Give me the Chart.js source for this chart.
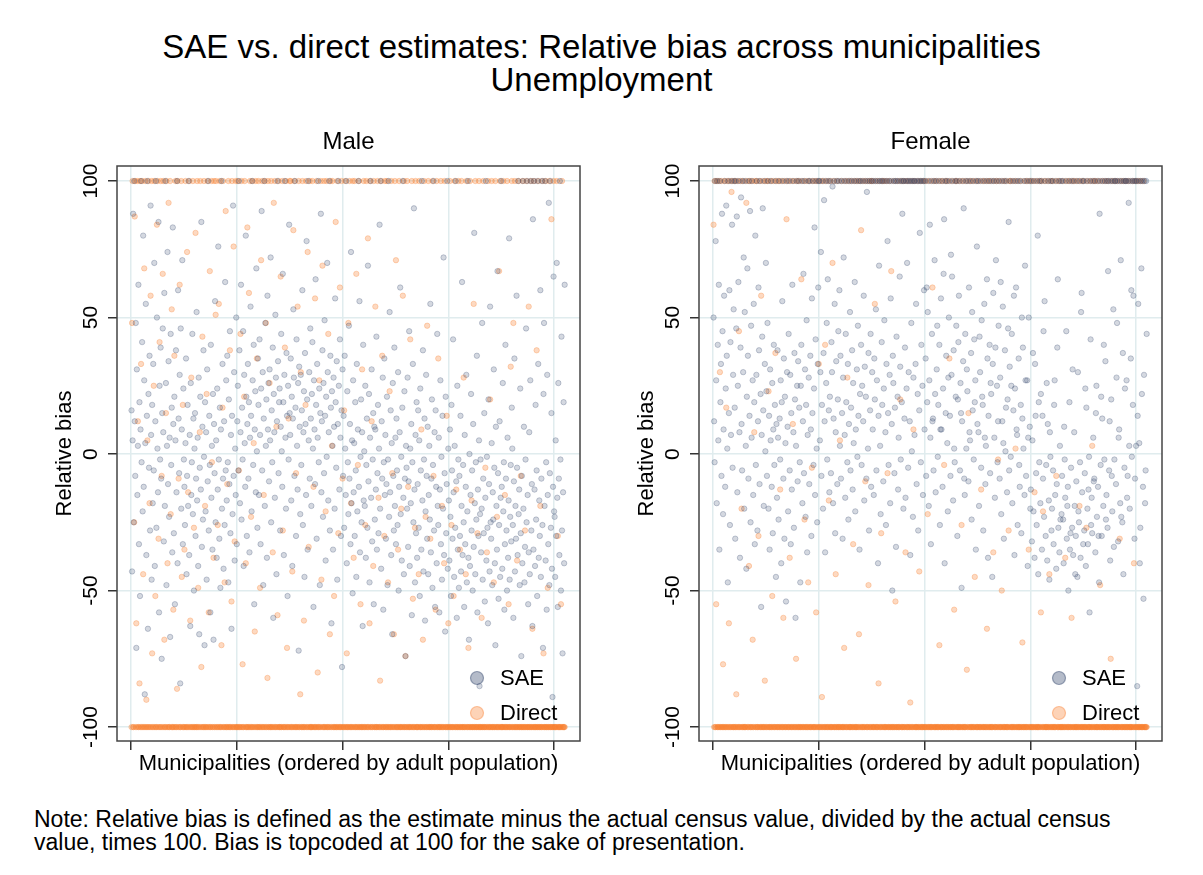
<!DOCTYPE html>
<html>
<head>
<meta charset="utf-8">
<title>SAE vs. direct estimates</title>
<script src="https://cdn.jsdelivr.net/npm/chart.js@4.4.0/dist/chart.umd.min.js"></script>
<style>
  body { margin: 0; background: #fff; font-family: "Liberation Sans", Arial, sans-serif; color: #000; }
  #page { position: relative; width: 1203px; height: 875px; overflow: hidden; }
  #title { position: absolute; top: 30px; left: 0; width: 1203px; text-align: center; font-size: 33px; line-height: 33px; }
  .panel { position: absolute; top: 120px; }
  #note { position: absolute; left: 34px; top: 808px; font-size: 23px; line-height: 23px; }
</style>
</head>
<body>
<div id="page">
  <div id="title">SAE vs. direct estimates: Relative bias across municipalities<br>Unemployment</div>
  <canvas id="maleChart" class="panel" width="600" height="680" style="left:0"></canvas>
  <canvas id="femaleChart" class="panel" width="600" height="680" style="left:582px"></canvas>
  <div id="note">Note: Relative bias is defined as the estimate minus the actual census value, divided by the actual census<br>value, times 100. Bias is topcoded at 100 for the sake of presentation.</div>
</div>
<script>
// municipalities are ranked by adult population; position i in each array = rank i+1
const xTicks = [0, 200, 400, 600, 800];
const yTicks = [-100, -50, 0, 50, 100];
const seriesLabels = ['SAE', 'Direct'];

const saeMale = [
  16,-43,5,88,-25,100,12,-8,48,-71,31,-15,3,62,-33,19,-52,9,100,-3,
  41,-21,80,-12,27,-88,4,55,-37,14,100,-64,22,-5,36,-28,91,7,-46,18,
  -18,33,-6,70,-41,12,100,-27,50,2,-14,85,-58,25,-2,39,-9,-75,15,46,
  8,-32,59,-19,100,26,-48,3,74,-11,34,-23,6,-67,44,-4,17,-36,83,11,
  -29,21,-55,5,38,-14,100,-40,60,13,-7,29,-84,46,-20,9,71,-33,24,-2,
  -12,-26,4,35,-44,-8,18,-19,100,-37,7,-63,26,-15,-3,44,-22,13,-50,2,
  15,-30,-9,52,-17,6,-41,28,-66,-5,21,-13,85,-34,10,-24,38,-1,-70,19,
  -21,8,-46,31,-10,100,-28,14,-4,-58,40,-16,3,-35,22,-68,11,-7,56,-25,
  5,-38,24,-13,76,-2,-31,17,-49,9,100,-20,33,-9,-42,12,-26,63,-6,27,
  -17,36,-3,-47,20,-11,45,-29,7,-64,14,-22,91,-8,30,-39,2,-15,50,-33,
  12,25,-6,100,38,-18,8,62,-24,17,-2,45,-41,29,4,-12,80,21,-30,11,
  33,-9,19,-36,6,54,14,-21,100,27,-4,40,-55,9,23,-14,68,1,-27,35,
  18,-15,42,7,-33,24,89,-6,30,-48,13,100,-19,48,3,20,-38,58,9,26,
  -10,31,5,72,-25,16,-3,39,-60,22,8,-16,51,28,-44,12,100,34,-7,19,
  24,-28,10,44,1,-12,66,19,-37,29,100,6,-20,37,14,-52,25,-2,84,15,
  7,35,-17,21,-41,13,53,28,-8,100,17,-30,42,3,-13,26,-72,32,10,-22,
  29,-4,16,60,-26,8,23,-45,37,11,-15,78,20,-35,100,5,30,-9,46,13,
  -19,22,41,2,-56,27,9,-11,64,18,-31,33,6,100,-3,24,-48,15,88,-14,
  12,38,-23,26,-7,49,14,-39,21,-1,70,30,-17,8,100,-28,36,17,-62,23,
  3,-35,28,10,-20,57,19,-5,34,-46,11,100,25,-13,42,6,-30,16,-78,31,
  -8,14,-27,36,2,-15,100,-40,23,-3,-22,47,-9,11,-33,74,-18,5,-51,27,
  -14,4,-30,19,-6,-45,33,-21,9,100,-12,56,-36,-1,20,-25,8,-63,40,-17,
  1,-19,25,-38,-4,13,-27,69,-10,22,-47,6,100,-16,31,-32,-2,15,-55,10,
  -24,9,-13,43,-35,-7,18,-29,2,84,-20,100,-42,12,-9,28,-57,-3,35,-15,
  7,-31,-11,21,-48,-2,100,-23,52,-14,16,-37,4,-66,26,-8,-28,39,-19,6,
  -33,13,-6,-26,30,-50,-12,8,61,-22,-1,-39,17,100,-16,-44,23,-9,-74,3,
  -5,-20,28,-34,-10,45,-41,2,-18,11,-59,-3,33,-25,90,-13,-47,7,-29,19,
  -38,-11,16,-27,5,-52,24,-6,-35,100,-17,38,-43,-2,13,-61,-21,29,-8,-31,
  10,-44,-15,3,-24,55,-36,-9,20,-49,-4,100,-28,8,-56,16,-12,-40,44,-19,
  -26,6,-58,-13,27,-33,-1,-46,14,-20,72,-37,-7,-65,21,-29,-11,100,-42,2,
  -17,-39,9,-23,-52,18,-6,-31,42,-14,-45,3,-27,100,-10,-60,25,-35,-2,-49,
  -8,-30,14,-43,-19,63,-37,-4,-25,-56,7,-33,-12,29,-47,-21,100,-38,-68,0,
  -41,-15,22,-28,-6,-50,11,-34,81,-18,-44,-3,-24,36,-58,-13,-30,5,-85,-22,
  -2,-36,-20,48,-46,-9,-29,15,-54,-16,100,-39,-1,-27,-62,20,-11,-43,54,-25,
  -31,4,-48,-14,-24,31,-5,-40,-70,10,-19,-35,67,-7,-53,-26,12,-45,-16,100,
  -12,-42,26,-21,-3,-57,-33,40,-9,-28,-50,6,-38,-17,79,-46,-23,-4,-32,17,
  2,-26,-60,-10,35,-43,-19,-31,58,-5,-37,100,-22,-13,-48,24,-29,-74,-8,-40,
  100,-20,10,-47,-34,-2,46,-25,100,-15,-55,-36,8,-44,27,100,-28,-11,-63,86,
  -35,100,-13,-41,18,-24,-6,-52,100,33,-38,-17,-30,60,-45,-9,100,-26,-71,22,
  48,-19,100,-39,-3,-57,29,-15,-33,92,-48,-7,100,-27,15,-42,-89,-12,65,-21,
  -23,-45,5,-30,70,-16,-56,26,-9,-37,100,-2,-50,43,-28,-73,-14,19,-40,62
];

const directMale = [
  -100,48,100,-100,-100,-25,87,100,-100,-62,-100,100,12,-100,-100,-84,100,-100,33,-100,
  100,-100,-44,-100,68,-100,100,-100,-90,-100,5,-100,100,-100,-18,-100,58,-100,100,-73,
  -100,-100,25,100,-100,-52,-100,-100,84,100,-100,-31,-100,41,-100,100,-100,-8,-100,66,
  100,-100,-68,-100,-100,15,100,-100,-40,-100,92,-100,-100,100,-22,-100,53,-100,-100,-57,
  -100,36,-100,100,-100,-100,-86,100,-100,-9,-100,62,-100,-100,100,-45,-100,18,-100,-100,
  -35,-100,100,-100,-100,74,-100,-14,-100,100,-100,-61,-100,28,-100,-100,100,-100,-27,-100,
  -100,81,-100,-100,100,-100,-49,-100,-100,8,100,-100,-78,-100,43,-100,-100,100,-100,-19,
  -100,-100,22,-100,100,-100,-58,-100,67,-100,-100,100,-3,-100,-100,-38,100,-100,-100,51,
  100,-100,-100,-26,-100,55,-100,100,-100,-100,-70,-100,17,100,-100,-100,-47,-100,89,-100,
  -100,-11,-100,100,-100,-100,38,-100,-100,-54,100,-100,-100,76,-100,-32,-100,100,-100,-100,
  -100,100,-100,-6,-100,-100,44,-100,100,-100,-77,-100,-100,21,100,-100,-40,-100,-100,83,
  -100,-100,59,-100,100,-100,-23,-100,-100,100,-100,4,-100,-65,-100,100,-100,35,-100,-100,
  100,-100,-100,-49,-100,71,-100,100,-100,-100,-15,-100,100,-100,48,-100,-100,-82,100,-100,
  -100,26,-100,-100,100,-100,-100,-36,-100,92,-100,100,-100,-100,10,-100,-59,-100,100,-100,
  -100,-100,65,-100,-100,100,-28,-100,-100,-100,39,-100,100,-100,-71,-100,-100,13,-100,100,
  -100,100,-100,-100,-43,-100,82,-100,100,-100,-100,-7,-100,-100,54,-100,100,-100,-100,-88,
  30,-100,-100,100,-100,-100,-61,-100,-100,18,100,-100,-100,74,-100,-34,-100,100,-100,-100,
  -100,-100,100,-100,-12,-100,-100,57,-100,-100,100,-100,-80,-100,-100,27,-100,-100,100,-46,
  -100,69,-100,-100,100,-100,-100,-21,-100,100,-100,-100,44,-100,-100,-66,100,-100,-100,3,
  100,-100,-100,-52,-100,-100,85,-100,-100,100,-100,-29,-100,-100,61,-100,-100,100,-100,-9,
  -100,-100,16,-100,100,-100,-100,-73,-100,-100,48,-100,100,-100,-100,-18,-100,-100,100,-100,
  -38,-100,100,-100,-100,66,-100,-100,-4,-100,100,-100,-100,-55,-100,-100,31,-100,-100,100,
  -100,-100,-26,-100,100,-100,-100,79,-100,-100,-62,100,-100,-100,12,-100,-100,-41,100,-100,
  -100,54,-100,-100,-100,100,-100,-16,-100,-100,-83,-100,100,-100,36,-100,-100,-100,-30,100,
  -100,-100,-100,100,-100,-47,-100,-100,23,-100,-100,100,-100,-7,-100,-100,-66,-100,100,-100,
  71,-100,-100,-100,-35,-100,100,-100,-100,-100,-20,-100,-100,58,-100,100,-100,-100,-74,-100,
  -100,100,-100,-12,-100,-100,-100,42,-100,-100,100,-100,-53,-100,-100,-100,-27,100,-100,-100,
  -100,-100,-100,-44,100,-100,-100,-100,9,-100,-100,-68,-100,100,-100,-100,-23,-100,-100,47,
  -100,100,-100,-100,-100,-31,-100,-100,-100,100,-100,-8,-100,-100,-100,-57,-100,100,-100,-100,
  35,-100,-100,-100,-100,100,-100,-19,-100,-100,-100,-40,100,-100,-100,-100,14,-100,-100,-62,
  -100,-100,100,-100,-100,-26,-100,-100,-100,-52,-100,100,-100,-100,-13,-100,-100,-100,100,-100,
  -100,-35,-100,-100,100,-100,-100,-100,28,-100,-100,-100,-44,100,-100,-100,-100,-71,-100,-100,
  100,-100,-100,-17,-100,-100,-100,55,-100,-100,100,-100,-100,-100,-29,-100,-100,100,-100,-100,
  -100,-100,-60,-100,-100,100,-100,-100,-100,-5,-100,-100,-36,-100,100,-100,-100,-100,20,-100,
  -100,100,-100,-100,-100,-47,-100,-100,100,-100,-100,-23,-100,-100,-100,67,-100,100,-100,-100,
  -100,-100,-100,100,-100,-100,-15,-100,-100,-100,100,-100,-100,-55,-100,-100,-100,32,-100,100,
  -100,-100,48,-100,-100,100,-100,-100,-100,-39,-100,-100,100,-100,-100,-100,-8,-100,-100,-100,
  100,-100,-100,-100,-28,-100,-100,100,-100,-100,-100,54,-100,-100,-100,100,-100,-100,-64,-100,
  -100,100,-100,-100,-100,-100,38,-100,-100,100,-100,-100,-100,-19,-100,-100,-100,100,-100,-73,
  -100,-100,-100,100,-100,-100,-100,-49,-100,-100,100,-100,-100,-100,86,-100,-100,-100,100,-100,
  -100,-100,-100,-100,100,-100,-30,-100,-100,-100,-100,-100,-55,-100,100,-100,-100,-100,-100,-100
];

const saeFemale = [
  50,12,-3,100,78,27,-18,100,40,5,62,-35,100,19,33,-8,88,45,-22,9,
  58,100,-12,24,91,36,2,-47,100,15,60,-26,41,7,100,84,-5,29,53,100,
  17,-31,100,46,87,-14,25,63,100,8,-38,39,94,11,-6,100,30,72,-20,52,
  100,3,-42,21,68,36,-9,100,14,89,-25,47,6,100,27,-15,55,19,-33,80,
  -4,29,100,-28,12,61,38,-11,100,22,-56,7,43,90,16,-19,100,33,1,70,
  23,-8,48,100,-20,14,-35,31,5,100,-12,26,-29,9,40,-4,18,100,-45,11,
  -16,38,6,-24,100,13,-2,27,-40,19,56,100,-9,35,-31,21,4,-54,100,30,
  10,-21,44,100,-6,29,-33,15,-13,62,100,8,-27,37,20,-60,3,100,25,-10,
  34,100,17,-3,-47,25,40,100,-18,12,66,-7,100,31,-23,18,49,-36,7,100,
  28,-11,100,36,9,-30,57,15,100,-4,24,83,-15,42,100,2,-25,33,61,100,
  100,5,30,74,-8,18,100,-20,37,93,12,-36,100,26,48,-2,64,100,16,-14,
  21,100,-7,41,30,98,-18,13,100,55,-29,8,34,100,-11,20,45,100,60,3,
  36,-9,100,15,-31,28,72,100,7,-16,44,19,100,-3,33,-24,11,100,52,-6,
  17,100,38,-13,26,4,100,63,-21,9,100,31,-1,47,14,100,-35,22,100,40,
  -4,25,100,12,58,-17,32,100,21,-9,96,100,2,37,-28,100,16,44,-12,100,
  30,9,100,-15,35,20,100,53,-6,27,100,-40,14,69,100,3,-22,100,41,18,
  100,-10,24,49,100,8,-26,33,100,78,15,-4,100,29,-18,57,100,11,-50,36,
  26,100,-7,17,100,-34,43,100,21,-13,6,100,65,32,-2,100,19,88,100,-20,
  100,13,39,-16,100,24,70,100,-5,30,100,12,-37,100,48,1,100,-23,28,100,
  7,100,33,55,-11,100,22,-28,100,16,81,100,-3,40,100,25,-15,100,60,9,
  100,35,-8,61,19,52,100,-19,27,84,6,-33,100,44,12,13,-6,100,71,22,
  -14,100,31,47,-1,18,100,40,-26,9,57,9,100,-12,24,66,86,-40,100,15,
  36,100,4,-21,28,50,100,14,-8,73,29,65,100,-17,38,2,-3,100,21,47,
  100,-30,20,41,58,100,-6,26,15,-49,12,100,34,90,-9,-15,44,100,2,31,
  23,100,-10,61,8,5,100,37,-24,52,16,100,-2,42,19,27,-35,100,76,11,
  100,8,-19,43,30,100,-5,49,21,18,-28,100,55,6,-11,3,100,64,35,-38,
  14,100,40,-7,26,22,100,-45,33,59,100,6,-16,39,71,100,25,-3,12,47,
  100,-9,28,63,-22,100,12,54,4,-31,100,38,1,17,100,-14,20,46,85,-6,
  32,100,-1,25,44,-18,100,16,58,-37,24,100,61,9,7,-26,100,35,-4,-12,
  100,18,-29,50,13,39,2,100,-15,69,27,-8,100,27,-41,6,50,100,10,-20,
  -13,100,-32,5,37,-21,100,-38,33,14,-7,-26,100,80,-44,19,-3,100,-18,22,
  100,-35,14,-9,45,-23,56,100,-30,-4,26,-39,11,100,-17,-46,8,-1,100,-28,
  -20,100,-6,-33,18,27,-15,100,-42,-11,39,64,-27,100,-36,3,-24,100,-22,-8,
  100,-24,-40,10,-2,-16,100,45,-31,-19,-12,-50,100,19,-35,-29,-5,100,-27,31,
  -37,100,8,-19,-44,-30,-10,100,-45,30,-21,-25,100,-3,-38,52,59,-14,100,-33,
  100,-28,-7,24,-41,17,100,-20,-33,-13,-1,-58,100,42,-26,-16,-29,100,6,-10,
  -9,100,-36,15,25,-23,100,-12,-30,-47,88,100,-4,21,-30,13,100,-19,40,-2,
  100,34,-24,-15,100,-27,67,100,-6,12,-39,100,20,-8,-21,100,53,-34,-2,100,
  100,-11,28,48,100,-32,6,9,100,-18,71,-23,100,-25,37,-44,100,-5,24,100,
  100,27,-16,-8,100,92,3,-20,100,35,60,-1,100,18,58,100,-31,-9,100,3,
  100,-85,14,55,100,4,-40,-27,100,68,22,100,-12,-53,29,100,-18,-6,100,44
];

const directFemale = [
  84,-100,100,-100,-100,-55,100,-100,-100,-100,100,-100,30,-100,-100,100,-100,-100,-77,-100,
  -100,100,-100,-100,17,-100,100,-100,-100,-62,-100,100,-100,-100,96,-100,100,-100,-100,-100,
  100,-100,-100,-88,-100,100,-100,-100,45,-100,-100,100,-100,-20,-100,-100,100,-100,-100,-100,
  -100,-100,92,100,-100,-100,-100,-41,100,-100,-100,-100,100,-100,-68,-100,-100,8,100,-100,
  -100,100,-100,-100,-100,-30,-100,100,-100,-100,58,-100,-100,100,-100,-100,-100,-83,-100,100,
  -100,-100,100,-100,23,-100,-100,-100,100,-100,-100,-52,-100,100,-100,-100,-100,37,-100,100,
  -100,-100,-100,100,-100,-100,-13,-100,100,-100,-100,-100,-60,-100,100,-100,-100,-100,86,-100,
  100,-100,-100,-100,-38,-100,100,-100,-100,-100,11,-100,100,-100,-100,-100,-75,-100,100,-100,
  -100,-100,100,-100,-100,-100,64,-100,-100,100,-100,-100,-24,-100,-100,100,-100,-100,-100,-47,
  -100,100,-100,-100,-100,-100,-5,100,-100,-100,-100,-100,100,-100,-58,-100,-100,100,-100,33,
  -100,-100,-100,100,-100,-89,-100,-100,100,-100,-100,40,-100,-100,100,-100,-100,-100,-17,-100,
  100,-100,-100,-100,-100,70,-100,100,-100,-100,-100,-44,-100,-100,100,-100,-100,-100,-100,5,
  -100,-100,100,-100,-100,-100,-100,-71,-100,100,-100,-100,-100,28,-100,100,-100,-100,-100,-100,
  -100,100,-100,-100,-33,-100,-100,100,-100,-100,-100,-100,100,-100,-100,-66,-100,100,-100,82,
  -100,-100,-100,100,-100,-100,-100,-10,100,-100,-100,-100,-100,-48,100,-100,-100,-100,100,-100,
  100,-100,-100,-100,-100,55,-100,100,-100,-100,-100,-100,-84,100,-100,-100,-100,-29,-100,100,
  -100,-100,100,-100,-100,-100,-100,100,-100,-7,-100,-100,-100,100,-100,-100,67,-100,-100,-100,
  -100,100,-100,-100,-54,-100,-100,-100,100,-100,-100,-100,-100,20,100,-100,-100,-100,-100,100,
  -100,-100,-100,-36,100,-100,-100,-100,-100,100,-100,-100,-91,-100,-100,100,-100,-100,9,-100,
  100,-100,-100,-100,-100,-100,100,-100,-100,-43,-100,-100,100,-100,-100,-100,-100,100,-100,-100,
  -100,-100,100,-100,-100,-22,-100,-100,-100,100,-100,-100,-100,-100,61,-100,100,-100,-100,-100,
  -100,100,-100,-100,-100,-100,-100,-70,100,-100,-100,-100,-100,100,-100,-100,-4,-100,-100,100,
  -100,-100,-100,100,-100,-100,35,-100,-100,-100,100,-100,-100,-100,-100,-57,-100,100,-100,-100,
  100,-100,-100,-100,-100,-100,100,-100,-100,-26,-100,-100,100,-100,-100,-100,-100,-100,100,-79,
  -100,-100,15,-100,100,-100,-100,-100,-100,100,-100,-100,-100,-100,-45,100,-100,-100,-100,-100,
  -100,100,-100,-100,-100,-100,-13,-100,100,-100,-100,-100,-100,100,-100,-100,-100,-64,-100,100,
  -100,-100,-100,100,-100,-100,-100,-100,-100,-36,100,-100,-100,-100,-100,100,-100,-100,-2,-100,
  100,-100,-100,-100,-100,-50,-100,100,-100,-100,-100,-100,100,-100,-100,-100,-100,-100,-28,100,
  -100,-100,100,-100,-100,-100,-100,-100,100,-100,-100,2,-100,-100,100,-100,-100,-100,-100,-100,
  -100,100,-100,-100,-69,-100,-100,-100,-100,100,-100,-100,-100,-100,100,-100,-35,-100,-100,100,
  -100,-100,-100,-100,100,-100,-100,-14,-100,-100,100,-100,-100,-100,-100,-100,100,-100,-100,-58,
  100,-100,-100,-21,-100,-100,100,-100,-100,-100,-100,-100,100,-100,-100,-44,-100,-100,100,-100,
  -100,-100,100,-100,-100,-100,-100,-100,-8,100,-100,-100,-100,-100,100,-100,-100,-100,-100,-100,
  -100,100,-100,-100,-100,-38,-100,-100,100,-100,-100,-100,-100,100,-100,-100,-100,-60,-100,100,
  -100,-100,-100,100,-100,-100,-100,-100,-100,100,-100,-100,-19,-100,-100,100,-100,-100,-100,-100,
  100,-100,-100,-100,-100,-27,-100,100,-100,-100,-100,-100,-100,100,-100,-100,3,-100,-100,100,
  -100,-100,100,-100,-100,-100,-100,-100,100,-100,-100,-48,-100,-100,-100,100,-100,-100,-100,-100,
  -100,100,-100,-100,-100,-100,100,-100,-100,-100,-100,-75,-100,100,-100,-100,-100,-100,100,-100,
  -100,-100,-100,100,-100,-100,-100,-100,-31,-100,100,-100,-100,-100,-100,100,-100,-100,-100,-100,
  100,-100,-100,-100,-100,100,-100,-100,-100,-100,-100,-100,100,-100,-100,-40,-100,100,-100,-100,
  -100,-100,100,-100,-100,-100,-100,100,-100,-100,-100,-100,-100,100,-100,-100,-100,-100,-100,-100
];

const FONT = '"Liberation Sans", Arial, Helvetica, sans-serif';
Chart.defaults.font.family = FONT;
Chart.defaults.color = '#000';

const gridColor = '#e0ecee';
const saeFill = 'rgba(40,60,100,0.2)';
const saeLine = 'rgba(40,60,100,0.25)';
const directFill = 'rgba(250,128,50,0.3)';
const directLine = 'rgba(250,128,50,0.3)';

function toPoints(values) {
    return values.map((v, i) => ({ x: i + 1, y: v }));
}

// frame, rotated y tick labels and the legend box in the lower right
const panelExtras = {
    id: 'panelExtras',
    afterDraw(chart) {
        const ctx = chart.ctx;
        const area = chart.chartArea;
        const yScale = chart.scales.y;

        ctx.save();
        ctx.strokeStyle = '#444';
        ctx.lineWidth = 1.5;
        ctx.strokeRect(area.left, area.top, area.right - area.left, area.bottom - area.top);

        ctx.fillStyle = '#000';
        ctx.font = '21px ' + FONT;
        ctx.textAlign = 'center';
        ctx.textBaseline = 'middle';
        yTicks.forEach(v => {
            ctx.save();
            ctx.translate(91.5, yScale.getPixelForValue(v));
            ctx.rotate(-Math.PI / 2);
            ctx.fillText(String(v), 0, 0);
            ctx.restore();
        });

        const sets = chart.data.datasets;
        const rows = [
            { set: sets[0], y: area.top + 512 },
            { set: sets[1], y: area.top + 547 }
        ];
        ctx.textAlign = 'left';
        ctx.font = '22px ' + FONT;
        rows.forEach(r => {
            ctx.beginPath();
            ctx.arc(area.left + 360, r.y, 6.5, 0, Math.PI * 2);
            ctx.fillStyle = r.set.legendFill;
            ctx.fill();
            ctx.lineWidth = 1.2;
            ctx.strokeStyle = r.set.legendLine;
            ctx.stroke();
            ctx.fillStyle = '#000';
            ctx.fillText(r.set.label, area.left + 383, r.y + 1);
        });
        ctx.restore();
    }
};

function renderPanel(canvas, heading, sae, direct) {
    new Chart(canvas.getContext('2d'), {
        type: 'scatter',
        data: {
            datasets: [{
                label: seriesLabels[0],
                data: toPoints(sae),
                backgroundColor: saeFill,
                borderColor: saeLine,
                borderWidth: 1,
                pointRadius: 2.7,
                legendFill: 'rgba(40,60,100,0.35)',
                legendLine: 'rgba(40,60,100,0.45)'
            }, {
                label: seriesLabels[1],
                data: toPoints(direct),
                backgroundColor: directFill,
                borderColor: directLine,
                borderWidth: 1,
                pointRadius: 2.7,
                legendFill: 'rgba(250,128,50,0.35)',
                legendLine: 'rgba(250,128,50,0.45)'
            }]
        },
        options: {
            responsive: false,
            animation: false,
            layout: { padding: { left: 0, right: 20, top: 0, bottom: 0 } },
            plugins: {
                legend: { display: false },
                tooltip: { enabled: false },
                title: {
                    display: true,
                    fullSize: false,
                    text: heading,
                    font: { size: 24, weight: 'normal' },
                    color: '#000',
                    padding: { top: 7.6, bottom: 9.6 }
                }
            },
            scales: {
                x: {
                    type: 'linear',
                    min: -26.5,
                    max: 849,
                    afterBuildTicks: s => { s.ticks = xTicks.map(v => ({ value: v })); },
                    afterFit: s => { s.height = 59; },
                    ticks: { display: false },
                    grid: { color: gridColor, lineWidth: 1.5, tickColor: '#333', tickLength: 9, tickWidth: 1.5 },
                    border: { display: false },
                    title: {
                        display: true,
                        text: 'Municipalities (ordered by adult population)',
                        font: { size: 22 },
                        color: '#000',
                        padding: { top: 0, bottom: 22.8 }
                    }
                },
                y: {
                    type: 'linear',
                    min: -105.1,
                    max: 105.5,
                    afterBuildTicks: s => { s.ticks = yTicks.map(v => ({ value: v })); },
                    afterFit: s => { s.width = 117; },
                    ticks: { display: false },
                    grid: { color: gridColor, lineWidth: 1.5, tickColor: '#333', tickLength: 9, tickWidth: 1.5 },
                    border: { display: false },
                    title: {
                        display: true,
                        text: 'Relative bias',
                        font: { size: 22 },
                        color: '#000',
                        padding: { top: 51.8, bottom: 0 }
                    }
                }
            }
        },
        plugins: [panelExtras]
    });
}

renderPanel(document.getElementById('maleChart'), 'Male', saeMale, directMale);
renderPanel(document.getElementById('femaleChart'), 'Female', saeFemale, directFemale);
</script>
</body>
</html>
